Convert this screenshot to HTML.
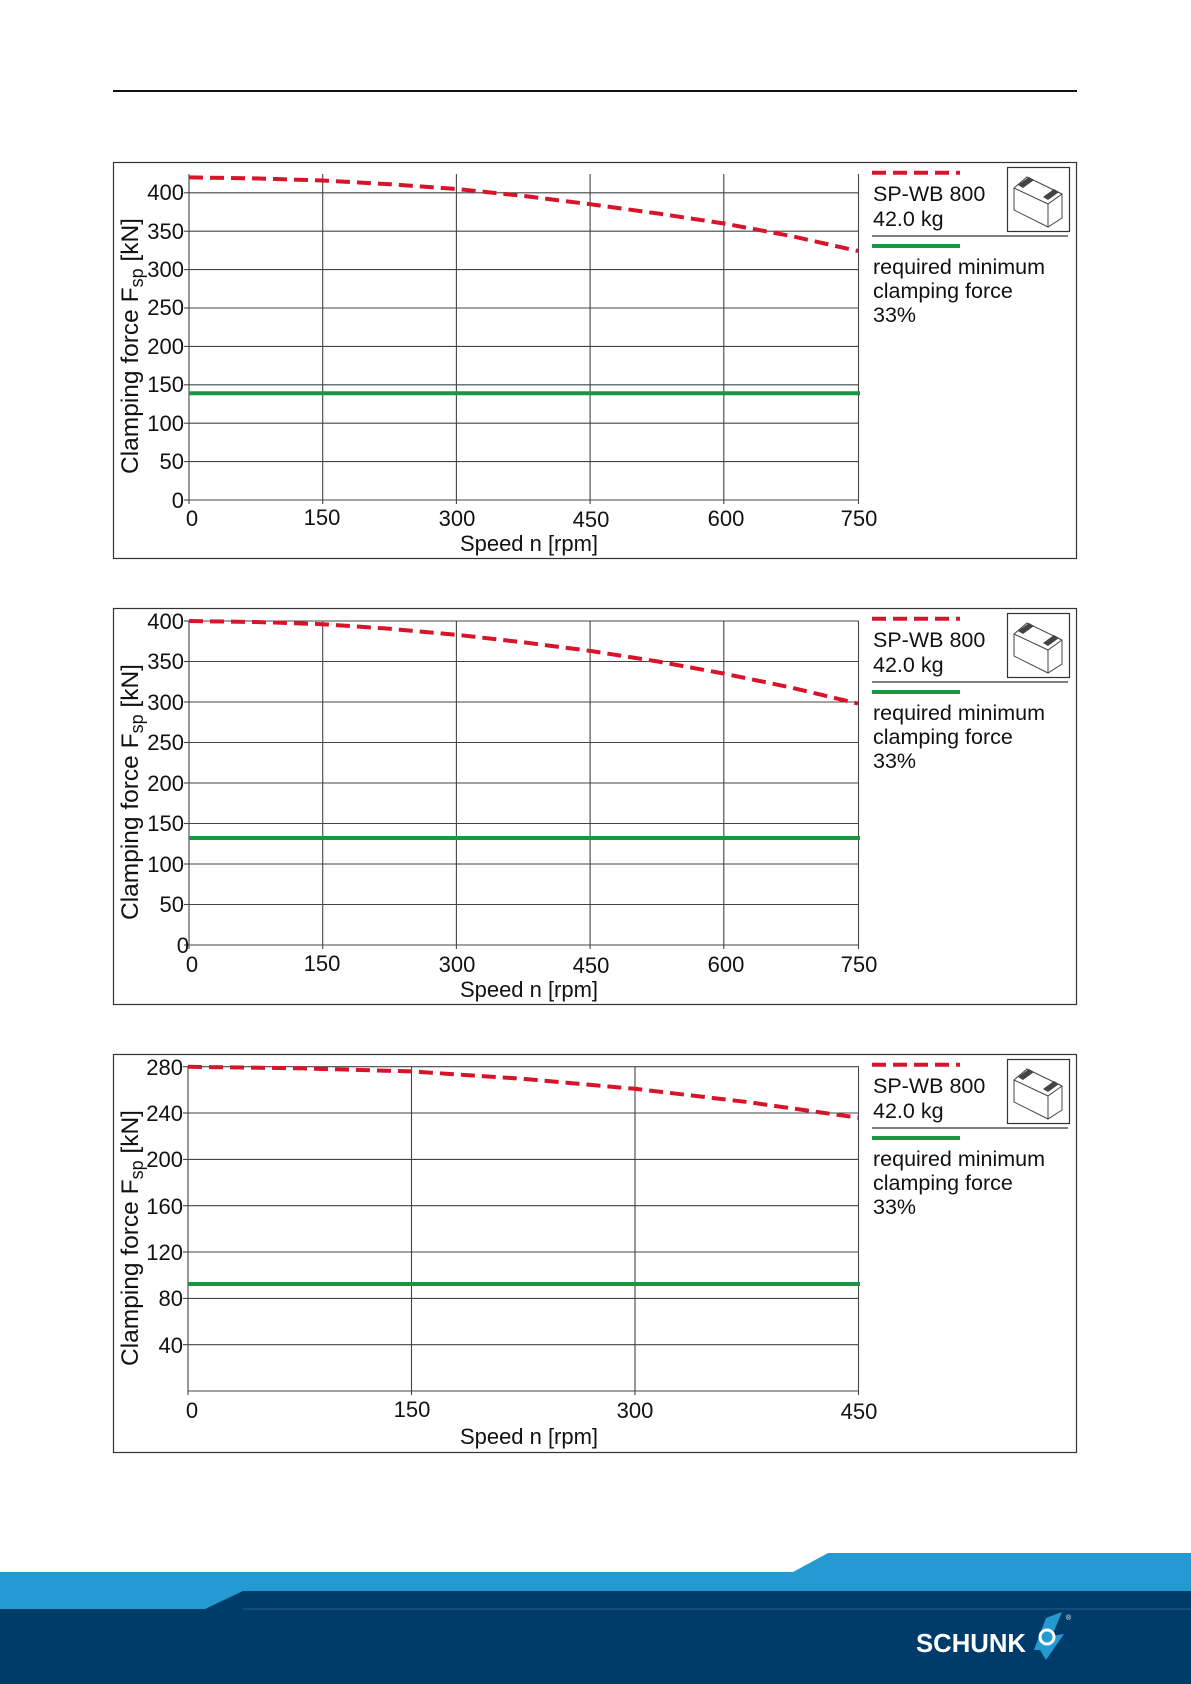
<!DOCTYPE html>
<html><head><meta charset="utf-8"><style>
html,body{margin:0;padding:0;background:#fff}
svg{display:block}
text{font-family:"Liberation Sans",Arial,sans-serif;fill:#111}
</style></head><body>
<svg width="1191" height="1684" viewBox="0 0 1191 1684" xmlns="http://www.w3.org/2000/svg">
<line x1="113" y1="91" x2="1077" y2="91" stroke="#111" stroke-width="2"/>

<!-- CHART 1 -->
<rect x="113.5" y="162.5" width="963" height="396" fill="none" stroke="#333" stroke-width="1.2"/>
<g stroke="#444" stroke-width="1.1">
<line x1="189" y1="500" x2="859" y2="500"/><line x1="189" y1="461.6" x2="859" y2="461.6"/><line x1="189" y1="423.2" x2="859" y2="423.2"/><line x1="189" y1="384.8" x2="859" y2="384.8"/><line x1="189" y1="346.4" x2="859" y2="346.4"/><line x1="189" y1="308" x2="859" y2="308"/><line x1="189" y1="269.6" x2="859" y2="269.6"/><line x1="189" y1="231.2" x2="859" y2="231.2"/><line x1="189" y1="192.8" x2="859" y2="192.8"/>
<line x1="189" y1="174" x2="189" y2="504"/><line x1="322.7" y1="174" x2="322.7" y2="504"/><line x1="456.4" y1="174" x2="456.4" y2="504"/><line x1="590.1" y1="174" x2="590.1" y2="504"/><line x1="723.8" y1="174" x2="723.8" y2="504"/><line x1="858.5" y1="174" x2="858.5" y2="504"/>
<line x1="184" y1="500" x2="189" y2="500"/><line x1="184" y1="461.6" x2="189" y2="461.6"/><line x1="184" y1="423.2" x2="189" y2="423.2"/><line x1="184" y1="384.8" x2="189" y2="384.8"/><line x1="184" y1="346.4" x2="189" y2="346.4"/><line x1="184" y1="308" x2="189" y2="308"/><line x1="184" y1="269.6" x2="189" y2="269.6"/><line x1="184" y1="231.2" x2="189" y2="231.2"/><line x1="184" y1="192.8" x2="189" y2="192.8"/>
</g>
<g font-size="22" text-anchor="end">
<text x="184" y="508">0</text><text x="184" y="469">50</text><text x="184" y="431">100</text><text x="184" y="392">150</text><text x="184" y="354">200</text><text x="184" y="315">250</text><text x="184" y="277">300</text><text x="184" y="239">350</text><text x="184" y="200">400</text>
</g>
<g font-size="22" text-anchor="middle">
<text x="192" y="526">0</text><text x="322" y="525">150</text><text x="457" y="526">300</text><text x="591" y="527">450</text><text x="726" y="526">600</text><text x="859" y="526">750</text>
<text x="529" y="551" textLength="138" lengthAdjust="spacingAndGlyphs">Speed n [rpm]</text>
</g>
<text transform="translate(138,346) rotate(-90)" font-size="24.5" text-anchor="middle">Clamping force F<tspan font-size="18" dy="5">sp</tspan><tspan dy="-5"> [kN]</tspan></text>
<line x1="189" y1="393.3" x2="860" y2="393.3" stroke="#1a9641" stroke-width="4"/>
<polyline points="189,177.4 256,178.4 323,180.5 390,184.3 457,189 524,196 591,204.3 658,213.5 724,223.5 791,236 858,251" fill="none" stroke="#d7142a" stroke-width="4" stroke-dasharray="14,7"/>

<!-- CHART 2 -->
<rect x="113.5" y="608.5" width="963" height="396" fill="none" stroke="#333" stroke-width="1.2"/>
<g stroke="#444" stroke-width="1.1">
<line x1="189" y1="945" x2="859" y2="945"/><line x1="189" y1="904.5" x2="859" y2="904.5"/><line x1="189" y1="864" x2="859" y2="864"/><line x1="189" y1="823.5" x2="859" y2="823.5"/><line x1="189" y1="783" x2="859" y2="783"/><line x1="189" y1="742.5" x2="859" y2="742.5"/><line x1="189" y1="702" x2="859" y2="702"/><line x1="189" y1="661.5" x2="859" y2="661.5"/><line x1="189" y1="621" x2="859" y2="621"/>
<line x1="189" y1="621" x2="189" y2="949"/><line x1="322.7" y1="621" x2="322.7" y2="949"/><line x1="456.4" y1="621" x2="456.4" y2="949"/><line x1="590.1" y1="621" x2="590.1" y2="949"/><line x1="723.8" y1="621" x2="723.8" y2="949"/><line x1="858.5" y1="621" x2="858.5" y2="949"/>
<line x1="184" y1="945" x2="189" y2="945"/><line x1="184" y1="904.5" x2="189" y2="904.5"/><line x1="184" y1="864" x2="189" y2="864"/><line x1="184" y1="823.5" x2="189" y2="823.5"/><line x1="184" y1="783" x2="189" y2="783"/><line x1="184" y1="742.5" x2="189" y2="742.5"/><line x1="184" y1="702" x2="189" y2="702"/><line x1="184" y1="661.5" x2="189" y2="661.5"/><line x1="184" y1="621" x2="189" y2="621"/>
</g>
<g font-size="22" text-anchor="end">
<text x="189" y="953">0</text><text x="184" y="912">50</text><text x="184" y="872">100</text><text x="184" y="831">150</text><text x="184" y="791">200</text><text x="184" y="750">250</text><text x="184" y="710">300</text><text x="184" y="669">350</text><text x="184" y="629">400</text>
</g>
<g font-size="22" text-anchor="middle">
<text x="192" y="972">0</text><text x="322" y="971">150</text><text x="457" y="972">300</text><text x="591" y="973">450</text><text x="726" y="972">600</text><text x="859" y="972">750</text>
<text x="529" y="997" textLength="138" lengthAdjust="spacingAndGlyphs">Speed n [rpm]</text>
</g>
<text transform="translate(138,792) rotate(-90)" font-size="24.5" text-anchor="middle">Clamping force F<tspan font-size="18" dy="5">sp</tspan><tspan dy="-5"> [kN]</tspan></text>
<line x1="189" y1="838" x2="860" y2="838" stroke="#1a9641" stroke-width="4"/>
<polyline points="189,621 256,622 323,624.2 390,628.8 457,634.8 524,642.4 591,651 658,661.5 724,673.6 791,687.5 858,703.6" fill="none" stroke="#d7142a" stroke-width="4" stroke-dasharray="14,7"/>

<!-- CHART 3 -->
<rect x="113.5" y="1054.5" width="963" height="398" fill="none" stroke="#333" stroke-width="1.2"/>
<g stroke="#444" stroke-width="1.1">
<line x1="188" y1="1391" x2="859" y2="1391"/><line x1="188" y1="1344.7" x2="859" y2="1344.7"/><line x1="188" y1="1298.4" x2="859" y2="1298.4"/><line x1="188" y1="1252" x2="859" y2="1252"/><line x1="188" y1="1205.7" x2="859" y2="1205.7"/><line x1="188" y1="1159.4" x2="859" y2="1159.4"/><line x1="188" y1="1113" x2="859" y2="1113"/><line x1="188" y1="1066.7" x2="859" y2="1066.7"/>
<line x1="188" y1="1066.7" x2="188" y2="1395"/><line x1="411.5" y1="1066.7" x2="411.5" y2="1395"/><line x1="635" y1="1066.7" x2="635" y2="1395"/><line x1="858.5" y1="1066.7" x2="858.5" y2="1395"/>
<line x1="183" y1="1344.7" x2="188" y2="1344.7"/><line x1="183" y1="1298.4" x2="188" y2="1298.4"/><line x1="183" y1="1252" x2="188" y2="1252"/><line x1="183" y1="1205.7" x2="188" y2="1205.7"/><line x1="183" y1="1159.4" x2="188" y2="1159.4"/><line x1="183" y1="1113" x2="188" y2="1113"/><line x1="183" y1="1066.7" x2="188" y2="1066.7"/>
</g>
<g font-size="22" text-anchor="end">
<text x="183" y="1353">40</text><text x="183" y="1306">80</text><text x="183" y="1260">120</text><text x="183" y="1214">160</text><text x="183" y="1167">200</text><text x="183" y="1121">240</text><text x="183" y="1075">280</text>
</g>
<g font-size="22" text-anchor="middle">
<text x="192" y="1418">0</text><text x="412" y="1417">150</text><text x="635" y="1418">300</text><text x="859" y="1419">450</text>
<text x="529" y="1444" textLength="138" lengthAdjust="spacingAndGlyphs">Speed n [rpm]</text>
</g>
<text transform="translate(138,1238) rotate(-90)" font-size="24.5" text-anchor="middle">Clamping force F<tspan font-size="18" dy="5">sp</tspan><tspan dy="-5"> [kN]</tspan></text>
<line x1="188" y1="1284" x2="860" y2="1284" stroke="#1a9641" stroke-width="4"/>
<polyline points="188,1066.8 300,1068.3 411,1071.4 523,1078.8 635,1088.8 747,1102 858,1117.7" fill="none" stroke="#d7142a" stroke-width="4" stroke-dasharray="14,7"/>

<!-- LEGENDS -->
<g id="leg">
<line x1="872" y1="172.7" x2="960" y2="172.7" stroke="#d7142a" stroke-width="4" stroke-dasharray="14,7"/>
<text x="873" y="201" font-size="21.5">SP-WB 800</text>
<text x="873" y="226" font-size="21.5">42.0 kg</text>
<rect x="1007.5" y="167.5" width="62" height="64" fill="#fff" stroke="#333" stroke-width="1.2"/>
<g stroke="#444" stroke-width="1" fill="none">
<path d="M1014 188 L1027 177 L1062 194 L1062 218 L1048 227 L1014 210 Z"/>
<path d="M1014 188 L1048 204 L1062 194 M1048 204 L1048 227"/>
</g>
<path d="M1018 185 L1029 177 L1034 180 L1023 188 Z M1043 197 L1054 189 L1059 192 L1048 200 Z" fill="#444"/>
<line x1="872" y1="236" x2="1068" y2="236" stroke="#333" stroke-width="1.2"/>
<line x1="872" y1="246" x2="960" y2="246" stroke="#1a9641" stroke-width="4"/>
<text x="873" y="274" font-size="21.5" textLength="172">required minimum</text>
<text x="873" y="298" font-size="21.5">clamping force</text>
<text x="873" y="322" font-size="21.5">33%</text>
</g>
<use href="#leg" transform="translate(0,446)"/>
<use href="#leg" transform="translate(0,892)"/>

<!-- FOOTER -->
<polygon points="0,1572 793,1572 828,1553 1191,1553 1191,1684 0,1684" fill="#259ad2"/>
<polygon points="205,1609 243,1591 1191,1591 1191,1684 0,1684 0,1609" fill="#003c69"/>
<line x1="243" y1="1609" x2="1191" y2="1609" stroke="#2a5a86" stroke-width="1"/>
<text x="916" y="1652" font-size="26" font-weight="bold" textLength="110" lengthAdjust="spacingAndGlyphs" style="fill:#fff">SCHUNK</text>
<path d="M1046 1618 L1062 1612 L1052 1636 L1064 1634 L1046 1660 L1040 1650 L1034 1650 Z" fill="#259ad2"/>
<circle cx="1047" cy="1637" r="7" fill="none" stroke="#fff" stroke-width="3"/>
<text x="1066" y="1620" font-size="7" style="fill:#fff">®</text>
</svg>
</body></html>
